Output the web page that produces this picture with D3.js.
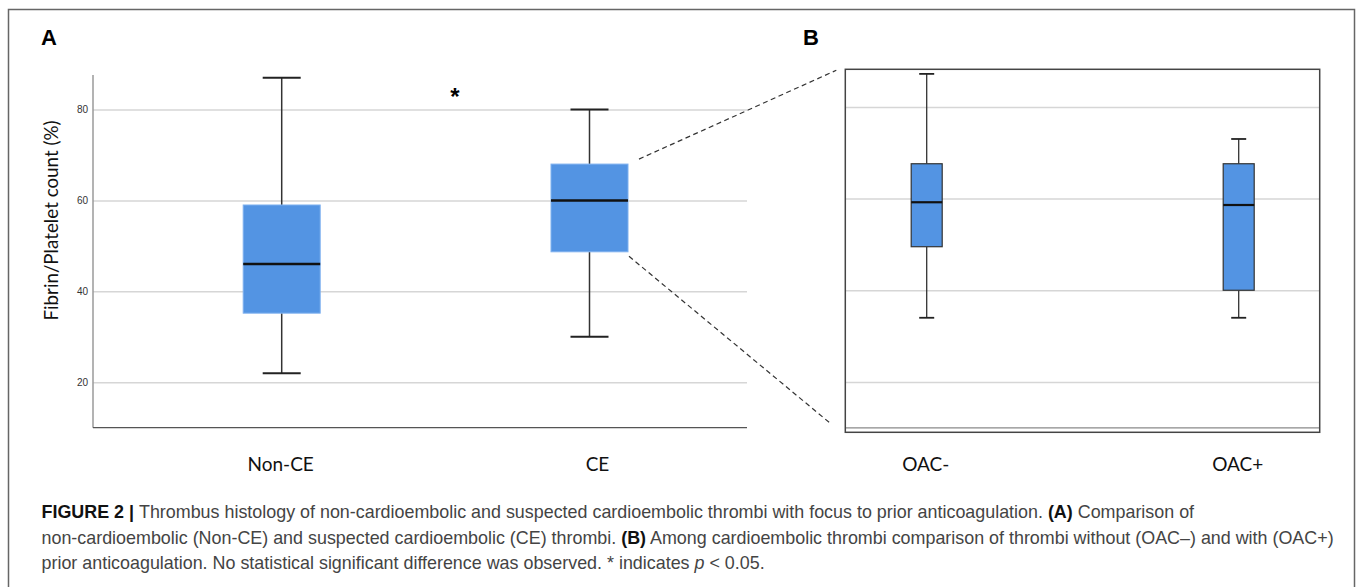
<!DOCTYPE html>
<html>
<head>
<meta charset="utf-8">
<script src="https://cdn.jsdelivr.net/npm/d3@7"></script>
<style>
  html, body { margin: 0; padding: 0; background: #fff; }
  svg { display: block; }
</style>
</head>
<body>
<svg id="fig" width="1357" height="587"></svg>
<script>
// ---- Panel A: Non-CE vs CE ----
const groupsA = ["Non-CE", "CE"];
const minA = [22, 30];
const q1A = [35.2, 48.7];
const medianA = [46, 60];
const q3A = [59, 68];
const maxA = [87, 80];

// ---- Panel B: CE thrombi without / with prior anticoagulation ----
const groupsB = ["OAC-", "OAC+"];
const minB = [34, 34];
const q1B = [49.5, 40];
const medianB = [59.2, 58.6];
const q3B = [67.6, 67.6];
const maxB = [87.2, 73];

const yTicks = [20, 40, 60, 80];
const yTitle = "Fibrin/Platelet count (%)";

const svg = d3.select("#fig");
const BOX_FILL = "#5394e3";

// outer figure frame
svg.append("rect")
  .attr("x", 8.5).attr("y", 9.5)
  .attr("width", 1346).attr("height", 620)
  .attr("fill", "none").attr("stroke", "#666").attr("stroke-width", 1.5);

// panel letters
svg.append("text").attr("x", 41).attr("y", 44.5)
  .attr("font-family", "Liberation Sans, Arial, sans-serif")
  .attr("font-weight", "bold").attr("font-size", 22).text("A");
svg.append("text").attr("x", 803).attr("y", 44.5)
  .attr("font-family", "Liberation Sans, Arial, sans-serif")
  .attr("font-weight", "bold").attr("font-size", 22).text("B");

// ================= Panel A =================
const A = { left: 93, right: 747, top: 75, bottom: 427.7 };
const yA = d3.scaleLinear().domain([10, 87.6]).range([A.bottom, A.top]);
const xA = d3.scalePoint().domain(groupsA).range([281.7, 589.5]);

const gA = svg.append("g");

// gridlines + tick labels
const axA = gA.append("g")
  .attr("transform", `translate(${A.left},0)`)
  .call(d3.axisLeft(yA).tickValues(yTicks).tickSize(-(A.right - A.left)).tickPadding(5));
axA.select(".domain").remove();
axA.selectAll(".tick line").attr("stroke", "#d6d6d6").attr("stroke-width", 1.5);
axA.selectAll(".tick text")
  .attr("font-family", "Liberation Sans, Arial, sans-serif")
  .attr("font-size", 10).attr("fill", "#333");

// axis lines
gA.append("line").attr("x1", A.left).attr("x2", A.left)
  .attr("y1", A.top).attr("y2", A.bottom)
  .attr("stroke", "#9a9a9a").attr("stroke-width", 1.5);
gA.append("line").attr("x1", A.left).attr("x2", A.right)
  .attr("y1", A.bottom).attr("y2", A.bottom)
  .attr("stroke", "#555").attr("stroke-width", 1.2);

// y title
gA.append("text")
  .attr("transform", `translate(58,${(113 + 328) / 2}) rotate(-90)`)
  .attr("text-anchor", "middle")
  .attr("font-family", "Lato, 'Open Sans', sans-serif")
  .attr("font-size", 18.8).attr("fill", "#111")
  .text(yTitle);

function drawBoxes(g, groups, x, y, mins, q1s, meds, q3s, maxs, opt) {
  groups.forEach((grp, i) => {
    const cx = x(grp);
    const bw = opt.boxWidth, cw = opt.capWidth;
    const w = g.append("g");
    // whiskers
    w.append("line").attr("x1", cx).attr("x2", cx)
      .attr("y1", y(maxs[i])).attr("y2", y(q3s[i]))
      .attr("stroke", "#333").attr("stroke-width", opt.whiskerWidth);
    w.append("line").attr("x1", cx).attr("x2", cx)
      .attr("y1", y(q1s[i])).attr("y2", y(mins[i]))
      .attr("stroke", "#333").attr("stroke-width", opt.whiskerWidth);
    // caps
    [maxs[i], mins[i]].forEach(v => {
      w.append("line").attr("x1", cx - cw / 2).attr("x2", cx + cw / 2)
        .attr("y1", y(v)).attr("y2", y(v))
        .attr("stroke", "#222").attr("stroke-width", opt.capStroke);
    });
    // box
    w.append("rect")
      .attr("x", cx - bw / 2).attr("width", bw)
      .attr("y", y(q3s[i])).attr("height", y(q1s[i]) - y(q3s[i]))
      .attr("fill", BOX_FILL)
      .attr("stroke", opt.boxStroke).attr("stroke-width", opt.boxStrokeWidth);
    // median
    w.append("line").attr("x1", cx - bw / 2).attr("x2", cx + bw / 2)
      .attr("y1", y(meds[i])).attr("y2", y(meds[i]))
      .attr("stroke", "#111").attr("stroke-width", opt.medianWidth);
  });
}

drawBoxes(gA, groupsA, xA, yA, minA, q1A, medianA, q3A, maxA, {
  boxWidth: 77, capWidth: 38, whiskerWidth: 1.5, capStroke: 2,
  boxStroke: "#7fb1ef", boxStrokeWidth: 1, medianWidth: 2.5
});

// category labels
gA.selectAll("text.cat").data(groupsA).join("text")
  .attr("class", "cat")
  .attr("x", (d, i) => xA(d) + (i === 1 ? 8 : -1)).attr("y", 470.5)
  .attr("text-anchor", "middle")
  .attr("font-family", "Lato, 'Open Sans', sans-serif")
  .attr("font-size", 19).attr("fill", "#111")
  .text(d => d);

// significance marker between groups
gA.append("text").attr("x", 455).attr("y", 105)
  .attr("text-anchor", "middle")
  .attr("font-family", "Liberation Sans, Arial, sans-serif")
  .attr("font-weight", "bold").attr("font-size", 24).text("*");

// ================= Panel B =================
const B = { left: 845.3, right: 1319.7, top: 69.3, bottom: 432.3 };
const yB = d3.scaleLinear().domain([10, 88.2]).range([427.8, B.top]);
const xB = d3.scalePoint().domain(groupsB).range([926.7, 1238.7]);

const gB = svg.append("g");
const axB = gB.append("g")
  .attr("transform", `translate(${B.left},0)`)
  .call(d3.axisLeft(yB).tickValues(yTicks).tickSize(-(B.right - B.left)).tickFormat(""));
axB.select(".domain").remove();
axB.selectAll(".tick line").attr("stroke", "#d6d6d6").attr("stroke-width", 1.5);

// inner baseline
gB.append("line").attr("x1", B.left).attr("x2", B.right)
  .attr("y1", yB(10)).attr("y2", yB(10))
  .attr("stroke", "#8a8a8a").attr("stroke-width", 1.2);

// frame
gB.append("rect").attr("x", B.left).attr("y", B.top)
  .attr("width", B.right - B.left).attr("height", B.bottom - B.top)
  .attr("fill", "none").attr("stroke", "#444").attr("stroke-width", 1.5);

drawBoxes(gB, groupsB, xB, yB, minB, q1B, medianB, q3B, maxB, {
  boxWidth: 31, capWidth: 15, whiskerWidth: 1.3, capStroke: 1.8,
  boxStroke: "#333", boxStrokeWidth: 1.2, medianWidth: 2.2
});

gB.selectAll("text.cat").data(groupsB).join("text")
  .attr("class", "cat")
  .attr("x", d => xB(d) - 1).attr("y", 470.5)
  .attr("text-anchor", "middle")
  .attr("font-family", "Lato, 'Open Sans', sans-serif")
  .attr("font-size", 19).attr("fill", "#111")
  .text(d => d);

// ---- zoom connector lines from the CE box to panel B ----
const ceX = xA("CE") + 77 / 2;
const conn = [
  [[ceX + 11, yA(q3A[1]) - 5], [B.left - 9, B.top + 1]],
  [[ceX + 1, yA(q1A[1]) + 4.5], [B.left - 15, B.bottom - 9]]
];
svg.selectAll("line.conn").data(conn).join("line")
  .attr("class", "conn")
  .attr("x1", d => d[0][0]).attr("y1", d => d[0][1])
  .attr("x2", d => d[1][0]).attr("y2", d => d[1][1])
  .attr("stroke", "#333").attr("stroke-width", 1.2)
  .attr("stroke-dasharray", "5,3.5");

// ---- caption ----
const capFont = "'Liberation Sans', Arial, sans-serif";
const capLines = [
  [["FIGURE 2 | ", "b"], ["Thrombus histology of non-cardioembolic and suspected cardioembolic thrombi with focus to prior anticoagulation. ", ""], ["(A)", "b"], [" Comparison of", ""]],
  [["non-cardioembolic (Non-CE) and suspected cardioembolic (CE) thrombi. ", ""], ["(B)", "b"], [" Among cardioembolic thrombi comparison of thrombi without (OAC\u2013) and with (OAC+)", ""]],
  [["prior anticoagulation. No statistical significant difference was observed. * indicates ", ""], ["p", "i"], [" < 0.05.", ""]]
];
const capBase = [518, 543.5, 569];
capLines.forEach((parts, li) => {
  const t = svg.append("text").attr("x", 41.5).attr("y", capBase[li])
    .attr("font-family", capFont).attr("font-size", 17.9).attr("fill", "#444");
  parts.forEach(([s, st]) => {
    const ts = t.append("tspan").text(s);
    if (st === "b") ts.attr("font-weight", "bold").attr("fill", "#111");
    if (st === "i") ts.attr("font-style", "italic");
  });
});
</script>
</body>
</html>
